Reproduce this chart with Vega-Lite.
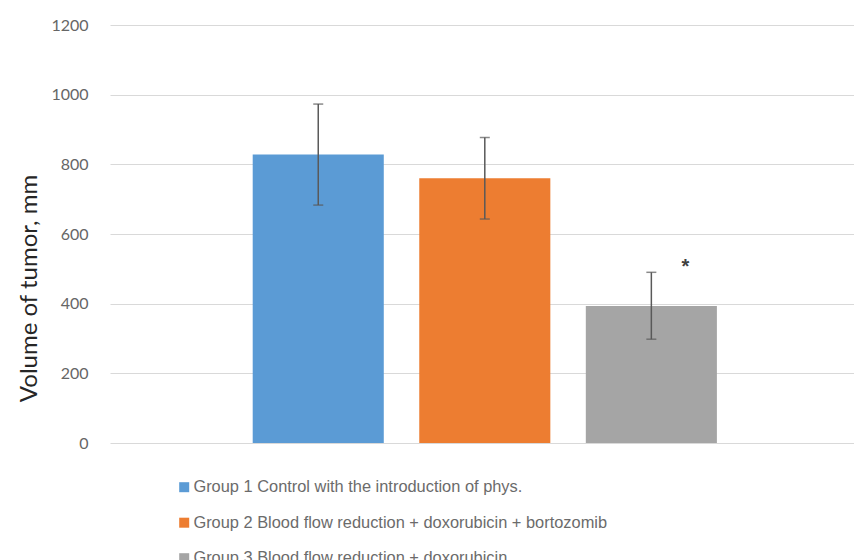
{
  "$schema": "https://vega.github.io/schema/vega-lite/v6.json",
  "width": 744,
  "height": 418,
  "autosize": {"type": "none"},
  "padding": {"left": 110, "top": 25, "right": 0, "bottom": 117},
  "background": "white",
  "data": {
    "values": [
      {"group": "Group 1 Control with the introduction of phys.", "volume": 828, "lower": 683, "upper": 973, "sig": ""},
      {"group": "Group 2 Blood flow reduction + doxorubicin + bortozomib", "volume": 760, "lower": 643, "upper": 877, "sig": ""},
      {"group": "Group 3 Blood flow reduction + doxorubicin", "volume": 393, "lower": 298, "upper": 490, "sig": "*"}
    ]
  },
  "encoding": {
    "x": {
      "field": "group",
      "type": "nominal",
      "sort": null,
      "scale": {"paddingInner": 0.213, "paddingOuter": 0.84, "align": 0.51},
      "axis": null
    }
  },
  "layer": [
    {
      "mark": {"type": "bar"},
      "encoding": {
        "y": {
          "field": "volume",
          "type": "quantitative",
          "scale": {"domain": [0, 1200], "nice": false},
          "axis": {
            "values": [0, 200, 400, 600, 800, 1000, 1200],
            "format": "d",
            "title": "Volume of tumor, mm",
            "titleFont": "Lato",
            "titleFontSize": 24,
            "titleFontWeight": "normal",
            "titleColor": "#262626",
            "titleAngle": -90,
            "titleAlign": "center",
            "titleBaseline": "alphabetic",
            "titleX": -74,
            "titleY": 263,
            "labelFont": "Lato",
            "labelFontSize": 16,
            "labelColor": "#666666",
            "labelPadding": 22,
            "domain": false,
            "ticks": false,
            "grid": true,
            "gridColor": "#d9d9d9",
            "gridWidth": 1
          }
        },
        "color": {
          "field": "group",
          "type": "nominal",
          "sort": null,
          "scale": {"range": ["#5b9bd5", "#ed7d31", "#a5a5a5"]},
          "legend": {
            "title": null,
            "orient": "none",
            "legendX": 66,
            "legendY": 454,
            "direction": "vertical",
            "symbolType": "square",
            "symbolSize": 100,
            "symbolStrokeWidth": 0,
            "labelFont": "Liberation Sans",
            "labelFontSize": 16.4,
            "labelColor": "#6b6b6b",
            "labelOffset": 1,
            "rowPadding": 18.5,
            "labelLimit": 700,
            "padding": 0
          }
        }
      }
    },
    {
      "mark": {"type": "rule", "color": "#595959", "strokeWidth": 1.5},
      "encoding": {
        "y": {"field": "lower", "type": "quantitative"},
        "y2": {"field": "upper"}
      }
    },
    {
      "mark": {"type": "tick", "color": "#595959", "thickness": 1.5, "size": 10, "orient": "horizontal"},
      "encoding": {
        "y": {"field": "lower", "type": "quantitative"}
      }
    },
    {
      "mark": {"type": "tick", "color": "#595959", "thickness": 1.5, "size": 10, "orient": "horizontal"},
      "encoding": {
        "y": {"field": "upper", "type": "quantitative"}
      }
    },
    {
      "mark": {"type": "text", "font": "Liberation Sans", "fontSize": 20, "fontWeight": "bold", "color": "#404040", "dx": 34, "dy": 1, "baseline": "alphabetic"},
      "encoding": {
        "y": {"field": "upper", "type": "quantitative"},
        "text": {"field": "sig"}
      }
    }
  ],
  "config": {
    "view": {"stroke": null}
  }
}
